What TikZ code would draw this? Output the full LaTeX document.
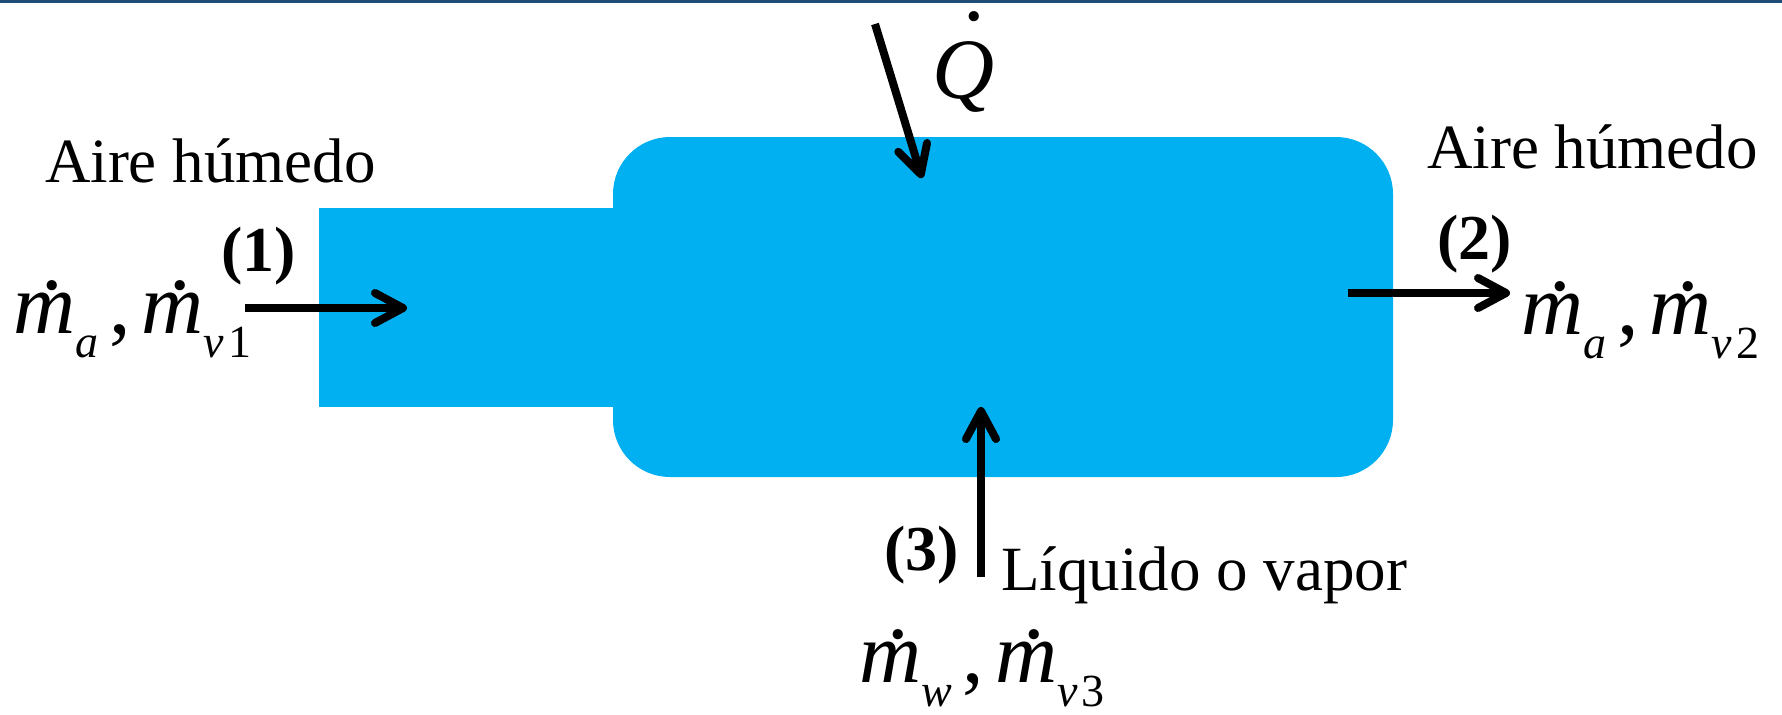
\documentclass[tikz,border=0pt]{standalone}
\usepackage{fontspec}
\setmainfont{Liberation Serif}
\usetikzlibrary{arrows.meta}
\definecolor{boxblue}{RGB}{0,176,240}
\definecolor{topline}{RGB}{31,78,121}
\newcommand\dotover[3]{{\ooalign{#1\cr\hidewidth\kern#3\smash{\raisebox{#2}{\upshape.}}\hidewidth\cr}}}
\newcommand\subtxt[1]{\raisebox{-12pt}{\fontsize{23}{23}\selectfont #1}}
\newcommand\mflow[2]{\fontsize{43}{43}\selectfont\dotover{\itshape m}{22pt}{8pt}\subtxt{\itshape #1}\kern5.5pt,\kern5.5pt\dotover{\itshape m}{22pt}{8pt}\subtxt{\itshape v\kern2pt\upshape #2}}
\begin{document}
\begin{tikzpicture}[x=0.5pt,y=-0.5pt,
  lbl/.style={inner sep=0pt, outer sep=0pt, anchor=base west},
  txt/.style={lbl, font=\fontsize{31.5}{36}\selectfont},
  num/.style={lbl, font=\fontsize{32}{36}\selectfont\bfseries},
  flowarrow/.style={line width=4pt, -{Straight Barb[length=14pt,width=15pt,round]}}]
\useasboundingbox (0,0) rectangle (1782,714);
\fill[topline] (0,0) rectangle (1782,2.5);
\node[fill=boxblue, inner sep=0pt, minimum width=153pt, minimum height=99.5pt] (duct) at (472,307.2) {};
\node[fill=boxblue, inner sep=0pt, minimum width=390pt, minimum height=170pt, rounded corners=28.5pt] (chamber) at (1003,307) {};
\node[txt] (aire1) at (45,182) {Aire húmedo};
\node[txt] (aire2) at (1427,168) {Aire húmedo};
\node[num] (n1) at (221,271) {(1)};
\node[num] (n2) at (1437,259) {(2)};
\node[num] (n3) at (884,570) {(3)};
\node[txt] (liq) at (1001,590) {Líquido o vapor};
\node[lbl] (f1) at (13,333) {\mflow{a}{1}};
\node[lbl] (f2) at (1521,334) {\mflow{a}{2}};
\node[lbl] (f3) at (859,682) {\mflow{w}{3}};
\node[lbl, font=\fontsize{43}{43}\selectfont] (q) at (932,98) {\dotover{\itshape Q}{39pt}{11pt}};
\coordinate (a1s) at (245,308); \coordinate (a1e) at (407,308);
\coordinate (a2s) at (1348,293); \coordinate (a2e) at (1510,293);
\coordinate (a3s) at (981,577); \coordinate (a3e) at (981,407);
\coordinate (aqs) at (875,24); \coordinate (aqe) at (922,178);
\draw[flowarrow] (a1s) -- (a1e);
\draw[flowarrow] (a2s) -- (a2e);
\draw[flowarrow] (a3s) -- (a3e);
\draw[flowarrow] (aqs) -- (aqe);
\end{tikzpicture}
\end{document}
